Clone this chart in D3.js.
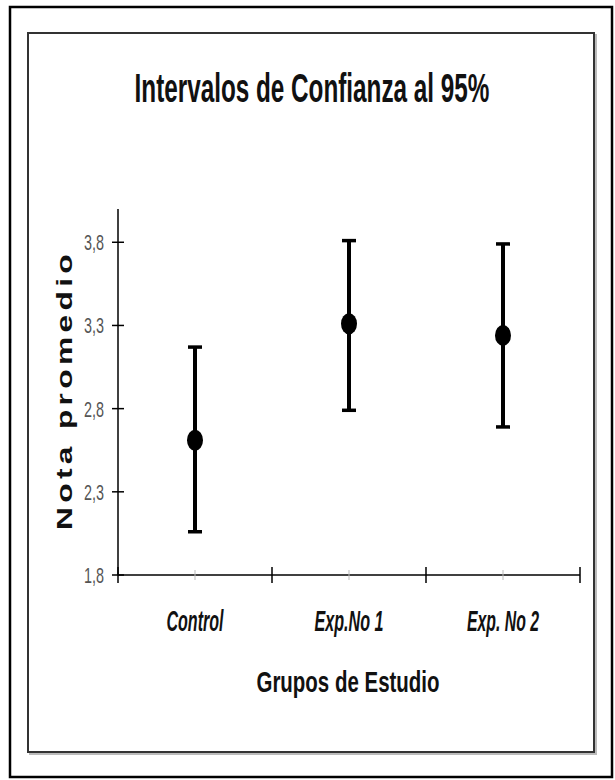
<!DOCTYPE html>
<html>
<head>
<meta charset="utf-8">
<script src="https://cdn.jsdelivr.net/npm/d3@7"></script>
<style>
  body { margin: 0; background: #fff; }
  svg { display: block; }
  text { font-family: "Liberation Sans Narrow", "Liberation Sans", Arial, sans-serif; }
</style>
</head>
<body>
<div id="chart"></div>
<script>
// data
var groups = ['Control', 'Exp.No 1', 'Exp. No 2'];
var means  = [2.61, 3.31, 3.24];
var lower  = [2.06, 2.79, 2.69];
var upper  = [3.17, 3.81, 3.79];
var yTicks = [1.8, 2.3, 2.8, 3.3, 3.8];

var W = 615, H = 780;
var plot = { left: 118, right: 580, top: 209, bottom: 575 };

var svg = d3.select('#chart').append('svg')
    .attr('width', W).attr('height', H);

// squeeze a text horizontally to a target width (the original uses a very condensed face)
function fitWidth(sel, w) {
    var n = sel.node().getComputedTextLength();
    var t = sel.attr('data-t');
    sel.attr('transform', t + ' scale(' + (w / n) + ',1)');
}

// outer frame
svg.append('rect')
    .attr('x', 10).attr('y', 7).attr('width', 602).attr('height', 770)
    .attr('fill', '#fff').attr('stroke', '#000').attr('stroke-width', 2.5);

// inner chart box (with a soft shadow on right / bottom)
svg.append('rect')
    .attr('x', 30).attr('y', 35).attr('width', 566).attr('height', 719)
    .attr('fill', 'none').attr('stroke', '#bbb').attr('stroke-width', 2);
svg.append('rect')
    .attr('x', 28).attr('y', 33).attr('width', 566).attr('height', 719)
    .attr('fill', '#fff').attr('stroke', '#333').attr('stroke-width', 2);

// title
var title = svg.append('text')
    .attr('data-t', 'translate(312,102)')
    .attr('text-anchor', 'middle')
    .attr('font-size', 40).attr('font-weight', 'bold')
    .attr('fill', '#111')
    .text('Intervalos de Confianza al 95%');
fitWidth(title, 355);

var y = d3.scaleLinear().domain([1.8, 4.0]).range([plot.bottom, plot.top]);
var x = d3.scaleBand().domain(groups).range([plot.left, plot.right]).paddingInner(0).paddingOuter(0);

// y axis
var yAxis = svg.append('g').attr('transform', 'translate(' + plot.left + ',0)');
yAxis.append('line')
    .attr('y1', plot.top).attr('y2', plot.bottom)
    .attr('stroke', '#000').attr('stroke-width', 1.5);
yAxis.selectAll('line.tick').data(yTicks).enter().append('line')
    .attr('class', 'tick')
    .attr('x1', -6).attr('x2', 6)
    .attr('y1', function(d) { return y(d); }).attr('y2', function(d) { return y(d); })
    .attr('stroke', '#000').attr('stroke-width', 1.5);
yAxis.selectAll('text').data(yTicks).enter().append('text')
    .attr('x', -14).attr('y', function(d) { return y(d) + 8; })
    .attr('text-anchor', 'end')
    .attr('font-size', 22)
    .attr('textLength', 20).attr('lengthAdjust', 'spacingAndGlyphs')
    .attr('fill', '#555')
    .text(function(d) { return d3.format('.1f')(d).replace('.', ','); });

// x axis
var xAxis = svg.append('g').attr('transform', 'translate(0,' + plot.bottom + ')');
xAxis.append('line')
    .attr('x1', plot.left).attr('x2', plot.right)
    .attr('stroke', '#000').attr('stroke-width', 1.5);
var bounds = groups.map(function(g) { return x(g); }).concat([plot.right]);
xAxis.selectAll('line.major').data(bounds).enter().append('line')
    .attr('class', 'major')
    .attr('x1', function(d) { return d; }).attr('x2', function(d) { return d; })
    .attr('y1', -8).attr('y2', 8)
    .attr('stroke', '#000').attr('stroke-width', 1.5);
xAxis.selectAll('line.minor').data(groups).enter().append('line')
    .attr('class', 'minor')
    .attr('x1', function(d) { return x(d) + x.bandwidth() / 2; })
    .attr('x2', function(d) { return x(d) + x.bandwidth() / 2; })
    .attr('y1', -5).attr('y2', 5)
    .attr('stroke', '#bbb').attr('stroke-width', 1);

var labelW = [57, 69, 72];
xAxis.selectAll('text').data(groups).enter().append('text')
    .attr('x', function(d) { return x(d) + x.bandwidth() / 2; })
    .attr('y', 56)
    .attr('text-anchor', 'middle')
    .attr('font-size', 29).attr('font-weight', 'bold').attr('font-style', 'italic')
    .attr('textLength', function(d, i) { return labelW[i]; })
    .attr('lengthAdjust', 'spacingAndGlyphs')
    .attr('fill', '#111')
    .text(function(d) { return d; });

// axis titles
svg.append('text')
    .attr('x', 348).attr('y', 692)
    .attr('text-anchor', 'middle')
    .attr('font-family', '"Liberation Sans", Arial, sans-serif')
    .attr('font-size', 30).attr('font-weight', 'bold')
    .attr('textLength', 183).attr('lengthAdjust', 'spacingAndGlyphs')
    .attr('fill', '#111')
    .text('Grupos de Estudio');

svg.append('text')
    .attr('transform', 'translate(72,390) rotate(-90)')
    .attr('text-anchor', 'middle')
    .attr('font-family', '"DejaVu Sans", Verdana, sans-serif')
    .attr('font-size', 22).attr('font-weight', 'bold')
    .attr('letter-spacing', 3)
    .attr('textLength', 280).attr('lengthAdjust', 'spacingAndGlyphs')
    .attr('fill', '#111')
    .text('Nota promedio');

// confidence intervals
var ci = svg.append('g');
groups.forEach(function(g, i) {
    var cx = x(g) + x.bandwidth() / 2;
    ci.append('line')
        .attr('x1', cx).attr('x2', cx)
        .attr('y1', y(upper[i])).attr('y2', y(lower[i]))
        .attr('stroke', '#000').attr('stroke-width', 4);
    [upper[i], lower[i]].forEach(function(v) {
        ci.append('line')
            .attr('x1', cx - 7).attr('x2', cx + 7)
            .attr('y1', y(v)).attr('y2', y(v))
            .attr('stroke', '#000').attr('stroke-width', 3.5);
    });
    ci.append('ellipse')
        .attr('cx', cx).attr('cy', y(means[i]))
        .attr('rx', 8).attr('ry', 10.5)
        .attr('fill', '#000');
});
</script>
</body>
</html>
